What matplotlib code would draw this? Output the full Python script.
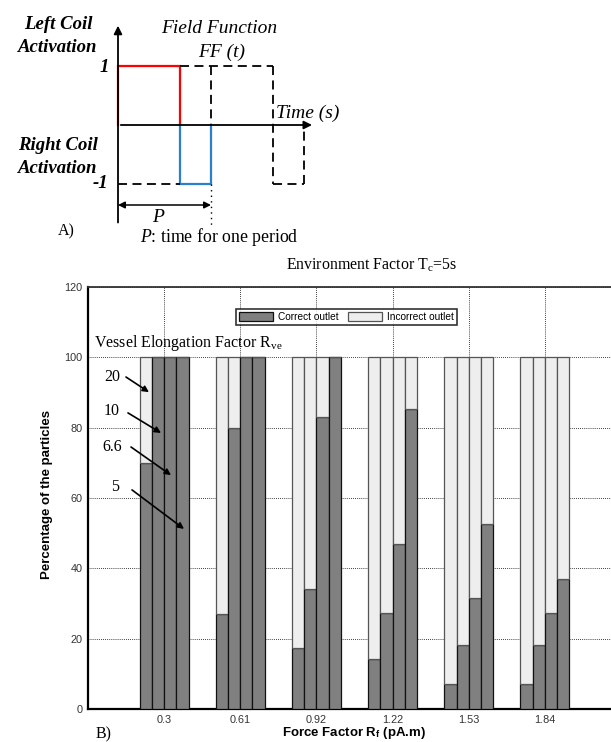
import matplotlib
matplotlib.use('AGG')
import matplotlib.pyplot as plt
import numpy as np

plt.rcParams['mathtext.fontset'] = 'custom'
plt.rcParams['mathtext.rm'] = 'Liberation Serif'
plt.rcParams['mathtext.it'] = 'Liberation Serif:italic'
plt.rcParams['mathtext.bf'] = 'Liberation Sans:bold'
plt.rcParams['mathtext.sf'] = 'Liberation Sans'

SERIF = 'Liberation Serif'
SANS = 'Liberation Sans'

# --- panel A: field function (time in units, amplitude -1..1)
red_t = [0, 0, 2, 2]
red_a = [0, 1, 1, 0]
blue_t = [2, 2, 3, 3]
blue_a = [0, -1, -1, 0]
# dashed continuation (segments)
dash_t = [[2, 5], [3, 3], [5, 5], [5, 6], [6, 6], [0, 2]]
dash_a = [[1, 1], [1, 0], [1, -1], [-1, -1], [-1, 0], [-1, -1]]
period = 3

# --- panel B: percentage of particles at correct outlet
force_labels = ['0.3', '0.61', '0.92', '1.22', '1.53', '1.84']
rve_labels = ['20', '10', '6.6', '5']
correct_20 = [70, 27, 17.3, 14.1, 7.1, 7.1]
correct_10 = [100, 80, 34.1, 27.2, 18.2, 18.2]
correct_66 = [100, 100, 83, 47, 31.5, 27.2]
correct_5 = [100, 100, 100, 85.2, 52.5, 37.1]

fig = plt.figure(figsize=(6.11, 7.42), dpi=100)

# ---------------- panel A
axA = fig.add_axes([0, 1 - 250 / 742, 1, 250 / 742])
axA.set_xlim(-118 / 31, (611 - 118) / 31)
axA.set_ylim(-125 / 59, 125 / 59)
axA.axis('off')

axA.plot(red_t, red_a, color='#ff0000', lw=1.6, solid_joinstyle='miter')
axA.plot(blue_t, blue_a, color='#2a7fd0', lw=1.6, solid_joinstyle='miter')
for tt, aa in zip(dash_t, dash_a):
    axA.plot(tt, aa, color='black', lw=1.3, dashes=(5, 3))
axA.plot([period, period], [-1, -1.73], color='black', lw=1, dashes=(1, 3))

# axes with arrows
axA.annotate('', xy=(0, 1.73), xytext=(0, -1.7),
             arrowprops=dict(arrowstyle='-|>', color='black', lw=1.3, mutation_scale=12))
axA.annotate('', xy=(6.35, 0), xytext=(0, 0),
             arrowprops=dict(arrowstyle='-|>', color='black', lw=1.3, mutation_scale=12))
axA.annotate('', xy=(period, -1.356), xytext=(0, -1.356),
             arrowprops=dict(arrowstyle='<|-|>', color='black', lw=1.1, mutation_scale=10,
                             shrinkA=0, shrinkB=0))

bi = dict(family=SERIF, fontweight='bold', fontstyle='italic', fontsize=13.5)
axA.text(-1.935, 1.695, 'Left Coil', ha='center', va='center', **bi)
axA.text(-1.935, 1.322, 'Activation', ha='center', va='center', **bi)
axA.text(-0.45, 0.98, '1', ha='center', va='center', **bi)
axA.text(-1.935, -0.339, 'Right Coil', ha='center', va='center', **bi)
axA.text(-1.935, -0.729, 'Activation', ha='center', va='center', **bi)
axA.text(-0.58, -1.0, '-1', ha='center', va='center', **bi)

it = dict(family=SERIF, fontstyle='italic', fontsize=14)
axA.text(3.26, 1.644, 'Field Function', ha='center', va='center', **it)
axA.text(3.35, 1.237, 'FF (t)', ha='center', va='center', **it)
axA.text(5.1, 0.203, 'Time (s)', ha='left', va='center', **it)
axA.text(1.29, -1.576, 'P', ha='center', va='center', **it)
axA.text(0.71, -1.898, r'$\mathit{P}$: time for one period', ha='left', va='center',
         family=SERIF, fontsize=12.8)
axA.text(-1.68, -1.797, 'A)', ha='center', va='center', family=SERIF, fontsize=11.5)

# ---------------- panel B
axB = fig.add_axes([88 / 611, 33 / 742, 533 / 611, 422 / 742])
x = np.arange(1, len(force_labels) + 1)
w = 0.16
series = [correct_20, correct_10, correct_66, correct_5]
for i, vals in enumerate(series):
    vals = np.array(vals)
    pos = x + (i - 1.5) * w
    axB.bar(pos, vals, w, color='#808080', edgecolor='#111111', lw=0.9,
            label='Correct outlet' if i == 0 else None, zorder=3)
    axB.bar(pos, 100 - vals, w, bottom=vals, color='#eeeeee', edgecolor='#555555',
            lw=0.9, label='Incorrect outlet' if i == 0 else None, zorder=3)

axB.set_xlim(0, 7)
axB.set_ylim(0, 120)
axB.set_xticks(x)
axB.set_xticklabels(force_labels)
axB.set_yticks(np.arange(0, 121, 20))
axB.grid(True, color='black', lw=0.6, dashes=(1, 1.5))
axB.set_axisbelow(True)
axB.tick_params(length=0, labelsize=7.8, labelcolor='#333333', pad=4)
for lab in axB.get_xticklabels() + axB.get_yticklabels():
    lab.set_family(SANS)
for s in ['left', 'bottom']:
    axB.spines[s].set_linewidth(1.6)
axB.spines['top'].set_linewidth(1.3)
axB.spines['top'].set_color('#333333')

axB.set_ylabel('Percentage of the particles', family=SANS, fontweight='bold', fontsize=9.5)
axB.yaxis.set_label_coords(-0.066, 0.509)
axB.set_xlabel(r'Force Factor R$_\mathbf{f}$ (pA.m)', family=SANS, fontweight='bold', fontsize=9.5)
axB.xaxis.set_label_coords(0.499, -0.039)

leg = axB.legend(loc='center', bbox_to_anchor=(0.485, 0.929), ncol=2,
                 prop={'family': SANS, 'size': 7.3}, frameon=True, fancybox=False,
                 handlelength=3.3, handleheight=1.0, borderpad=0.3, columnspacing=1.0,
                 handletextpad=0.5, borderaxespad=0)
leg.get_frame().set_edgecolor('black')
leg.get_frame().set_linewidth(1.2)
leg.set_zorder(5)

axB.text(3.73, 126.2, r'Environment Factor T$_\mathrm{c}$=5s', ha='center', va='center',
         family=SERIF, fontsize=11.4, clip_on=False)
axB.text(0.079, 104.1, r'Vessel Elongation Factor R$_\mathrm{ve}$', ha='left', va='center',
         family=SERIF, fontsize=11.5, zorder=6)

# arrows to the four bars of the first group
txt_pos = [(0.315, 94.4), (0.315, 84.7), (0.315, 74.5), (0.355, 63.1)]
arr_from = [(0.499, 94.4), (0.525, 84.2), (0.565, 74.5), (0.578, 62.3)]
arr_to = [(0.801, 90.1), (0.959, 78.5), (1.090, 66.5), (1.261, 51.2)]
for lab, tp, af, at in zip(rve_labels, txt_pos, arr_from, arr_to):
    axB.text(tp[0], tp[1], lab, ha='center', va='center', family=SERIF, fontsize=11.5, zorder=6)
    axB.annotate('', xy=at, xytext=af, zorder=6,
                 arrowprops=dict(arrowstyle='-|>', color='black', lw=1.2, mutation_scale=9,
                                 shrinkA=0, shrinkB=0))

fig.text(104 / 611, 1 - 734 / 742, 'B)', ha='center', va='center', family=SERIF, fontsize=11.5)

plt.savefig('out.png', dpi=100)
